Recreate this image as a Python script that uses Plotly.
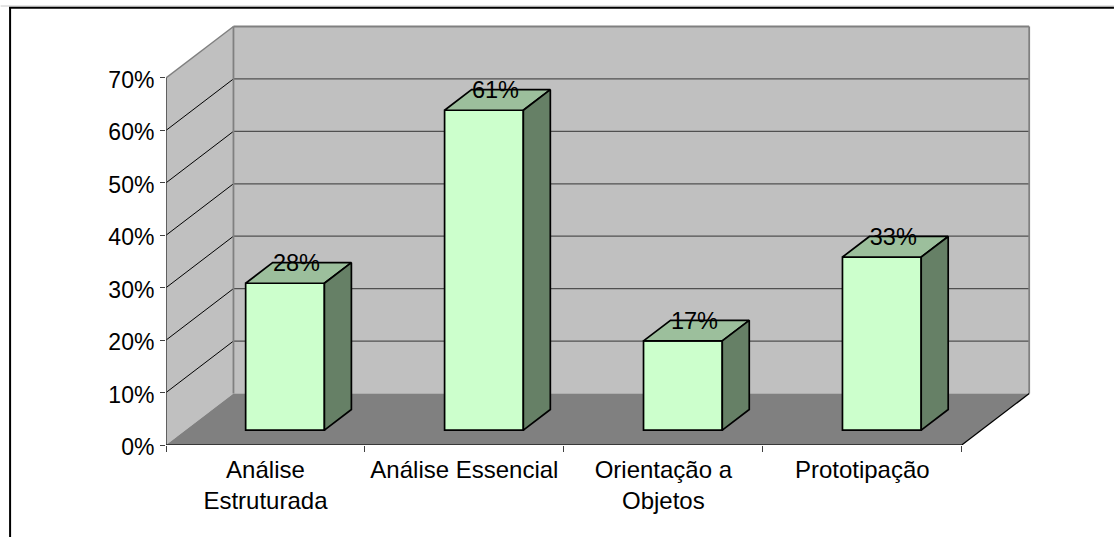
import plotly.graph_objects as go

# Chart data
categories = ["Análise<br>Estruturada", "Análise Essencial", "Orientação a<br>Objetos", "Prototipação"]
values = [28, 61, 17, 33]
value_labels = ["28%", "61%", "17%", "33%"]
y_ticks = [0, 10, 20, 30, 40, 50, 60, 70]
y_tick_labels = ["0%", "10%", "20%", "30%", "40%", "50%", "60%", "70%"]

# Oblique projection, in axis units: one category is 199.05 px, one percent is 5.243 px
WIDTH, HEIGHT = 1114, 537
LEFT, RIGHT_EDGE, TOP, BOTTOM = 165.5, 1034.0, 24.0, 445.0
X_UNIT = 199.05
Y_UNIT = 5.243
DEPTH_X = 67.5 / X_UNIT
DEPTH_Y = 51.5 / Y_UNIT
BAR_WIDTH = 78.8 / X_UNIT
BAR_SHIFT = 0.29    # where the bars start along the floor depth
BAR_DEPTH = 0.40    # how much of the floor depth a bar occupies
Y_TOP = max(y_ticks)
N = len(categories)

BAR_FRONT = "#ccffcc"
BAR_TOP = "#9cbf9c"
BAR_SIDE = "#668066"
WALL = "#c0c0c0"
FLOOR = "#808080"
WALL_EDGE = "#808080"
TEXT_FONT = "Liberation Sans, Arial, sans-serif"

fig = go.Figure()


def polygon(xs, ys, fill=None, line="#000000", width=1.7):
    """Add a closed outlined polygon in axis coordinates."""
    fig.add_trace(go.Scatter(
        x=list(xs) + [xs[0]], y=list(ys) + [ys[0]], mode="lines",
        fill="toself" if fill else "none", fillcolor=fill,
        line=dict(color=line, width=width), hoverinfo="skip",
        showlegend=False, cliponaxis=False,
    ))


def wall_shape(xs, ys, fill, line_color=None, width=0):
    path = "M " + " L ".join(f"{x},{y}" for x, y in zip(xs, ys)) + " Z"
    return dict(type="path", path=path, xref="x", yref="y", fillcolor=fill, layer="below",
                line=dict(color=line_color or fill, width=width))


def seg(x0, y0, x1, y1, color, width):
    return dict(type="line", x0=x0, y0=y0, x1=x1, y1=y1, xref="x", yref="y", layer="below",
                line=dict(color=color, width=width))


# Walls and floor go underneath the bars
shapes = [
    wall_shape([0, DEPTH_X, DEPTH_X, 0], [0, DEPTH_Y, Y_TOP + DEPTH_Y, Y_TOP], WALL),
    wall_shape([DEPTH_X, N + DEPTH_X, N + DEPTH_X, DEPTH_X],
               [DEPTH_Y, DEPTH_Y, Y_TOP + DEPTH_Y, Y_TOP + DEPTH_Y], WALL),
    wall_shape([0, N, N + DEPTH_X, DEPTH_X], [0, 0, DEPTH_Y, DEPTH_Y], FLOOR),
]
for tick in y_ticks[1:-1]:
    shapes.append(seg(0, tick, DEPTH_X, tick + DEPTH_Y, "#000000", 1))
    shapes.append(seg(DEPTH_X, tick + DEPTH_Y, N + DEPTH_X, tick + DEPTH_Y, "#505050", 1.2))
shapes += [
    seg(0, Y_TOP, DEPTH_X, Y_TOP + DEPTH_Y, WALL_EDGE, 1.5),
    seg(DEPTH_X, DEPTH_Y, DEPTH_X, Y_TOP + DEPTH_Y, WALL_EDGE, 1.8),
    seg(DEPTH_X, Y_TOP + DEPTH_Y, N + DEPTH_X, Y_TOP + DEPTH_Y, WALL_EDGE, 1.8),
    seg(N + DEPTH_X, DEPTH_Y, N + DEPTH_X, Y_TOP + DEPTH_Y, WALL_EDGE, 1.8),
    seg(N, 0, N + DEPTH_X, DEPTH_Y, "#000000", 1.3),
    seg(0, 0, 0, Y_TOP, "#404040", 1.5),
    seg(0, 0, N, 0, "#202020", 1.5),
]

# Outer chart frame, cut off on the right and at the bottom
to_px_x = lambda px: (px - LEFT) / (WIDTH - LEFT - (WIDTH - RIGHT_EDGE))
to_px_y = lambda py: (BOTTOM - py) / (BOTTOM - TOP)
frame = [
    dict(type="line", xref="paper", yref="paper", x0=to_px_x(0), x1=to_px_x(WIDTH),
         y0=to_px_y(6), y1=to_px_y(6), line=dict(color="#c8c8c8", width=1)),
    dict(type="line", xref="paper", yref="paper", x0=to_px_x(8.5), x1=to_px_x(WIDTH),
         y0=to_px_y(7.8), y1=to_px_y(7.8), line=dict(color="#000000", width=2)),
    dict(type="line", xref="paper", yref="paper", x0=to_px_x(9.5), x1=to_px_x(9.5),
         y0=to_px_y(7), y1=to_px_y(HEIGHT), line=dict(color="#000000", width=2)),
]

centers = [i + 0.5 + BAR_SHIFT * DEPTH_X for i in range(N)]
floor = BAR_SHIFT * DEPTH_Y

# Front faces of the bars
fig.add_trace(go.Bar(
    x=centers, y=values, base=[floor] * N, width=BAR_WIDTH,
    marker=dict(color=BAR_FRONT, line=dict(color="#000000", width=1.7)),
    hoverinfo="skip", showlegend=False,
))

# Top and side faces follow from each bar's value
dx = BAR_DEPTH * DEPTH_X
dy = BAR_DEPTH * DEPTH_Y
for c, v in zip(centers, values):
    l, r, t = c - BAR_WIDTH / 2, c + BAR_WIDTH / 2, floor + v
    polygon([l, r, r + dx, l + dx], [t, t, t + dy, t + dy], BAR_TOP)
    polygon([r, r + dx, r + dx, r], [floor, floor + dy, t + dy, t], BAR_SIDE)

# Value labels sit on the back edge of each bar top
fig.add_trace(go.Scatter(
    x=[c + dx / 2 - 2.0 / X_UNIT for c in centers],
    y=[floor + v + dy - 2.5 / Y_UNIT for v in values],
    text=value_labels, mode="text", textposition="middle center",
    textfont=dict(family=TEXT_FONT, size=23.5, color="#000000"),
    hoverinfo="skip", showlegend=False, cliponaxis=False,
))

fig.update_layout(
    width=WIDTH, height=HEIGHT,
    margin=dict(l=LEFT, r=WIDTH - RIGHT_EDGE, t=TOP, b=HEIGHT - BOTTOM, pad=0),
    paper_bgcolor="#ffffff", plot_bgcolor="#ffffff",
    shapes=shapes + frame, showlegend=False, barmode="overlay",
    font=dict(family=TEXT_FONT, size=23, color="#000000"),
    xaxis=dict(
        range=[0, (RIGHT_EDGE - LEFT) / X_UNIT], tickmode="array",
        tickvals=[i + 0.5 for i in range(N)], ticktext=categories,
        ticks="", showgrid=False, zeroline=False, showline=False,
        ticklabelstandoff=8, tickangle=0, automargin=False,
        tickfont=dict(family=TEXT_FONT, size=24, color="#000000"),
        minor=dict(tickmode="array", tickvals=list(range(N + 1)), ticks="outside",
                   ticklen=6, tickwidth=1, tickcolor="#404040", showgrid=False),
    ),
    yaxis=dict(
        range=[0, (BOTTOM - TOP) / Y_UNIT], tickmode="array",
        tickvals=y_ticks, ticktext=y_tick_labels,
        ticks="outside", ticklen=5, tickwidth=1, tickcolor="#404040",
        showgrid=False, zeroline=False, showline=False,
        ticklabelstandoff=1, ticklabelshift=2, automargin=False,
    ),
)

fig.write_html("out.html", config={"displayModeBar": False})
